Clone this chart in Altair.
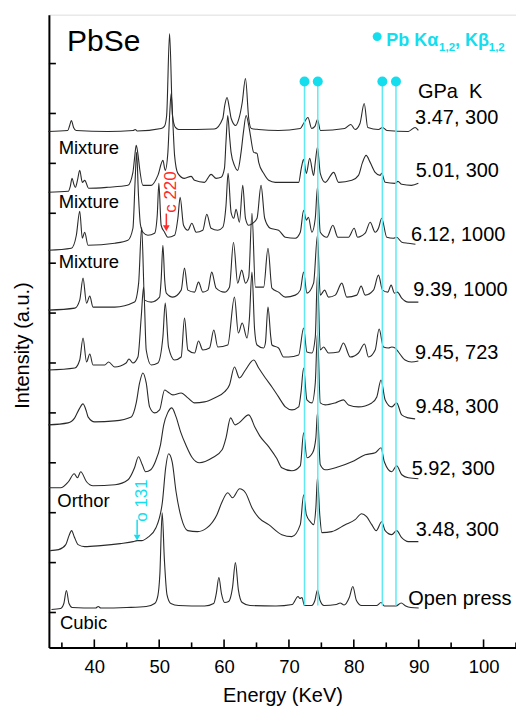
import altair as alt
import pandas as pd

# ---------------------------------------------------------------------------
# Energy-dispersive diffraction spectra of PbSe.
# Each spectrum: (energy in KeV, counts above that spectrum's own baseline)
# ---------------------------------------------------------------------------
s_347_300 = [(32.9, 0), (35.9, 1), (36.2, 6), (36.46, 11), (36.8, 4), (37.2, 1),
             (42.1, 0), (46.0, 1), (46.3, 2), (46.6, 0.5), (50.3, 3), (50.8, 5),
             (51.15, 16), (51.6, 98), (52.05, 16), (52.5, 4), (53.0, 2), (58.5, 2.5),
             (59.8, 13), (60.1, 26), (60.46, 34), (60.8, 24), (61.1, 13), (61.8, 6),
             (62.3, 13), (62.8, 29), (63.3, 53), (63.8, 13), (64.2, 3), (65.3, 2),
             (68.4, 1), (71.75, 3), (72.26, 8), (72.93, 14), (73.5, 3), (74.0, 5),
             (74.4, 12), (74.85, 1), (78.6, 3), (79.54, 7), (80.2, 2), (80.95, 8),
             (81.6, 28), (82.15, 4), (83.8, 2), (84.42, 4), (85.1, 1), (88.4, 0),
             (89.45, 4), (89.95, 1)]

s_501_300 = [(32.9, -1), (36.0, 0), (36.3, 5), (36.57, 13), (36.85, 7), (37.08, 4),
             (37.4, 11), (37.75, 21), (38.15, 9), (38.52, 11), (39.14, 3), (42.1, 4),
             (45.18, 6), (45.95, 19), (46.2, 33), (46.46, 46), (46.75, 36), (46.98, 23),
             (47.49, 6), (48.77, 6), (49.8, 16), (50.57, 31), (50.93, 21), (51.34, 39),
             (51.6, 75), (51.85, 98), (52.1, 70), (52.37, 36), (52.88, 18), (53.9, 13),
             (54.93, 15), (55.45, 11), (56.98, 9), (58.0, 17), (58.77, 13), (59.54, 14),
             (60.06, 23), (60.3, 50), (60.57, 76), (60.85, 55), (61.08, 39), (61.6, 26),
             (62.1, 21), (62.62, 39), (63.0, 60), (63.4, 76), (63.8, 66), (64.06, 56),
             (64.57, 39), (65.08, 38), (65.34, 29), (66.1, 18), (66.88, 11), (67.9, 9),
             (71.5, 9), (71.9, 23), (72.26, 32), (72.68, 18), (73.2, 33), (73.8, 16),
             (74.06, 29), (74.4, 44), (74.83, 18), (75.6, 9), (76.9, 19), (77.65, 9),
             (79.7, 11), (80.72, 16), (81.34, 29), (81.9, 36), (82.52, 29), (83.29, 19),
             (84.06, 16), (84.3, 18), (84.83, 9), (86.37, 8), (86.8, 10), (87.38, 7),
             (88.9, 6), (89.95, 8)]

s_612_1000 = [(32.9, -1), (36.46, 1), (37.23, 14), (37.75, 38), (38.15, 11), (38.52, 17),
              (39.03, 4), (43.14, 6), (45.18, 9), (45.95, 21), (46.3, 70), (46.52, 97),
              (46.8, 55), (47.1, 25), (47.49, 17), (48.26, 14), (49.29, 16), (49.7, 34),
              (49.95, 66), (50.3, 24), (50.83, 17), (51.34, 12), (52.37, 14), (52.88, 31),
              (53.23, 52), (53.75, 24), (54.42, 19), (55.03, 26), (55.7, 17), (56.72, 19),
              (57.34, 35), (58.0, 21), (59.03, 19), (59.8, 22), (60.3, 44), (60.62, 76),
              (61.08, 37), (61.5, 31), (61.85, 40), (62.37, 27), (62.88, 64), (63.3, 31),
              (63.8, 24), (64.42, 26), (65.08, 31), (65.7, 64), (66.26, 31), (67.13, 21),
              (68.4, 19), (69.45, 12), (70.98, 11), (71.75, 17), (72.26, 39), (72.68, 29),
              (73.0, 32), (73.54, 17), (74.06, 31), (74.4, 62), (74.83, 17), (75.85, 12),
              (76.77, 24), (77.54, 12), (79.18, 12), (80.06, 21), (80.57, 12), (81.75, 16),
              (82.52, 27), (83.29, 17), (83.8, 21), (84.3, 31), (85.08, 12), (86.1, 11),
              (86.6, 12), (87.4, 7), (88.4, 6), (89.5, 5)]

s_939_1000 = [(32.9, 0), (37.0, 2), (37.75, 10), (38.26, 32), (38.8, 7), (39.3, 14),
              (39.8, 3), (43.14, 3), (46.2, 8), (46.83, 27), (47.3, 83), (47.75, 10),
              (48.77, 8), (50.06, 13), (50.3, 30), (50.57, 65), (50.85, 30), (51.1, 17),
              (52.1, 13), (53.39, 20), (53.9, 42), (54.42, 20), (55.45, 18), (56.06, 28),
              (56.72, 18), (57.5, 20), (58.1, 38), (58.77, 22), (60.06, 18), (60.83, 23),
              (61.45, 68), (62.1, 27), (62.72, 40), (63.3, 27), (63.8, 33), (64.3, 97),
              (64.83, 23), (66.1, 23), (66.77, 62), (67.38, 22), (68.4, 18), (69.45, 13),
              (70.98, 15), (71.75, 20), (72.26, 38), (72.77, 17), (73.8, 27), (74.4, 75),
              (74.83, 15), (75.5, 20), (76.1, 13), (77.14, 15), (78.15, 27), (78.92, 13),
              (80.46, 15), (81.13, 24), (81.75, 15), (83.03, 20), (83.8, 35), (84.42, 20),
              (85.23, 18), (85.75, 25), (86.26, 17), (86.72, 18), (87.38, 12), (88.4, 8),
              (89.95, 8)]

s_945_723 = [(32.9, -1), (37.0, 1), (37.75, 9), (38.26, 31), (38.8, 7), (39.3, 15),
             (39.8, 4), (41.6, 4), (42.2, 7), (43.14, 2), (44.9, 6), (45.34, 10),
             (45.95, 6), (46.72, 12), (47.23, 52), (47.6, 82), (48.0, 19), (48.77, 4),
             (49.8, 6), (50.57, 32), (50.93, 66), (51.44, 22), (52.37, 9), (53.39, 12),
             (53.9, 51), (54.42, 19), (55.45, 16), (56.06, 28), (56.72, 19), (57.75, 21),
             (58.42, 39), (59.03, 22), (60.57, 24), (61.6, 72), (62.2, 36), (62.8, 46),
             (63.54, 31), (63.9, 50), (64.3, 97), (64.7, 40), (65.08, 24), (66.1, 21),
             (66.37, 26), (66.77, 62), (67.2, 32), (67.38, 24), (68.4, 21), (69.18, 12),
             (69.95, 12), (71.5, 14), (72.26, 41), (72.77, 17), (73.54, 16), (74.06, 32),
             (74.4, 95), (74.83, 19), (75.34, 22), (76.1, 16), (77.65, 17), (78.4, 26),
             (79.45, 12), (80.72, 16), (81.65, 25), (82.26, 12), (83.29, 19), (83.9, 40),
             (84.57, 22), (85.34, 21), (85.85, 22), (86.37, 21), (86.88, 17), (87.9, 9),
             (88.9, 7), (89.95, 8)]

s_948_300 = [(32.9, 0), (35.95, 2), (36.98, 7), (37.6, 15), (38.26, 21), (38.8, 13),
             (39.03, 8), (40.06, 3), (43.14, 4), (45.7, 8), (46.46, 22), (46.98, 42),
             (47.49, 52), (48.0, 42), (48.52, 18), (49.29, 12), (50.06, 15), (50.83, 35),
             (51.34, 33), (52.1, 30), (53.39, 32), (54.42, 27), (55.45, 22), (56.98, 23),
             (58.52, 27), (60.06, 33), (60.83, 40), (61.6, 58), (62.37, 47), (63.3, 55),
             (64.57, 65), (65.34, 57), (66.37, 47), (67.38, 38), (68.4, 28), (69.45, 18),
             (70.46, 15), (71.5, 18), (71.85, 32), (72.26, 57), (72.77, 25), (73.54, 22),
             (74.06, 42), (74.4, 92), (74.83, 22), (75.6, 20), (77.14, 22), (78.4, 25),
             (79.18, 20), (80.72, 18), (82.77, 22), (83.54, 28), (84.2, 45), (84.83, 25),
             (85.85, 18), (86.6, 22), (87.38, 10), (88.4, 7), (89.45, 6)]

s_592_300 = [(33.0, 0), (34.8, 0), (36.0, 6), (36.9, 14), (37.4, 10), (37.9, 16),
             (38.8, 6), (39.8, 2), (43.2, 3), (45.2, 8), (46.2, 20), (46.8, 31),
             (47.4, 23), (47.9, 16), (48.7, 18), (49.4, 26), (50.2, 43), (50.7, 63),
             (51.3, 75), (51.95, 80), (52.6, 71), (53.3, 56), (54.1, 43), (55.1, 30),
             (56.2, 25), (58.2, 30), (59.7, 38), (60.3, 50), (61.0, 70), (61.7, 63),
             (62.3, 65), (63.8, 73), (64.8, 60), (65.5, 52), (66.9, 41), (68.15, 29),
             (68.9, 20), (70.45, 17), (71.75, 22), (72.26, 55), (72.77, 30), (73.65, 35),
             (74.15, 50), (74.4, 75), (74.83, 23), (75.6, 18), (77.65, 21), (79.7, 26),
             (81.75, 33), (83.3, 35), (84.2, 40), (84.7, 26), (85.85, 16), (86.6, 22),
             (87.4, 13), (88.4, 10), (89.95, 9)]

s_348_300 = [(33.2, -1), (34.5, 0), (35.6, 5), (36.1, 14), (36.5, 19), (36.9, 13),
             (37.5, 5), (38.5, 3), (41.0, 4), (44.0, 6), (46.0, 8), (46.6, 9),
             (47.3, 9), (48.2, 12), (49.5, 22), (50.5, 48), (51.0, 82), (51.45, 96),
             (52.0, 88), (52.6, 58), (53.4, 32), (54.4, 19), (55.9, 18), (57.4, 22),
             (58.9, 35), (59.7, 48), (60.57, 57), (61.3, 52), (62.4, 61), (63.3, 57),
             (64.3, 42), (65.34, 32), (66.88, 25), (68.9, 15), (70.45, 13), (71.75, 25),
             (72.26, 55), (72.68, 35), (73.3, 28), (73.8, 25), (74.15, 42), (74.4, 72),
             (74.75, 35), (75.08, 17), (76.6, 18), (78.67, 25), (80.2, 30), (81.2, 36),
             (81.97, 33), (82.77, 25), (83.45, 19), (84.3, 28), (84.83, 19), (85.85, 15),
             (86.6, 19), (87.38, 12), (88.4, 8), (89.95, 8)]

s_open = [(33.4, -1), (34.8, 0), (35.3, 5), (35.7, 18), (36.1, 5), (36.6, 1),
          (40.2, 0.5), (40.6, 2), (41.0, 0.5), (45.0, 1), (48.0, 2), (49.3, 5),
          (49.8, 13), (50.1, 34), (50.46, 96), (50.8, 49), (51.2, 14), (51.8, 5),
          (53.0, 3), (57.0, 2.5), (58.4, 5), (58.8, 15), (59.2, 31), (59.6, 15),
          (60.1, 6), (60.7, 7), (61.3, 21), (61.75, 46), (62.2, 19), (62.8, 6),
          (64.0, 3), (68.0, 2.5), (70.5, 4), (71.4, 12), (71.7, 10), (72.0, 11),
          (72.4, 3), (73.5, 3), (74.0, 8), (74.4, 18.5), (74.8, 8), (75.4, 3),
          (77.3, 4), (77.9, 5.5), (78.5, 3.5), (79.3, 11), (79.85, 22), (80.4, 8),
          (81.2, 3), (83.5, 3), (84.2, 6), (84.7, 2.5), (86.5, 2.5), (87.3, 5.5),
          (88.0, 2.5), (88.8, 1), (90.0, 0.5)]

# pressure / temperature of every spectrum, top to bottom
conditions = ["3.47, 300", "5.01, 300", "6.12, 1000", "9.39, 1000", "9.45, 723",
              "9.48, 300", "5.92, 300", "3.48, 300", "Open press"]
spectra = [s_347_300, s_501_300, s_612_1000, s_939_1000, s_945_723,
           s_948_300, s_592_300, s_348_300, s_open]
# vertical stacking offset of each spectrum (a.u.)
baselines = [517, 457, 399, 338, 279, 223, 160, 98, 39]

# Pb K-alpha(1,2) and K-beta(1,2) fluorescence lines (KeV)
pb_lines = [72.4, 74.45, 84.4, 86.5]

# phase names written beside the spectra
phase_names = ["Mixture", "Mixture", "Mixture", "Orthor", "Cubic"]

# ---------------------------------------------------------------------------
FONT = "Liberation Sans"
CYAN = "#14DDEE"
RED = "#FF2A2A"
INK = "#2a2a2a"

W, H = 468, 634
x_scale = alt.Scale(domain=[33, 105], nice=False, zero=False)
y_scale = alt.Scale(domain=[0, 634], nice=False, zero=False)

rows = []
for k, (name, base, pts) in enumerate(zip(conditions, baselines, spectra)):
    for e, h in pts:
        rows.append({"trace": name, "k": k, "E": e, "I": base + h})
df = pd.DataFrame(rows)

x_axis = alt.Axis(values=list(range(40, 101, 10)), ticks=False, grid=False,
                  domain=True, domainColor="black", domainWidth=2,
                  labelFontSize=18.5, labelColor="black", labelPadding=10,
                  labelFont=FONT, title="Energy (KeV)", titleFont=FONT,
                  titleFontSize=20, titleFontWeight="normal", titleColor="black",
                  titleY=54, titleBaseline="alphabetic")
y_axis = alt.Axis(labels=False, ticks=False, grid=False,
                  domain=True, domainColor="black", domainWidth=2,
                  title="Intensity (a.u.)", titleFont=FONT, titleFontSize=20,
                  titleFontWeight="normal", titleColor="black", titleAngle=270,
                  titleX=-20, titleY=331, titleAlign="center",
                  titleBaseline="alphabetic")


def xq():
    return alt.X("E:Q", scale=x_scale, axis=x_axis)


def yq(field="I"):
    return alt.Y(f"{field}:Q", scale=y_scale, axis=y_axis)


lines = alt.Chart(df).mark_line(color=INK, strokeWidth=1.1, interpolate="monotone").encode(
    x=xq(), y=yq(), detail="trace:N", order=alt.Order("E:Q"))

# fluorescence markers
pb_df = pd.DataFrame({"E": pb_lines, "I": [567] * 4, "I2": [42] * 4})
pb_rules = alt.Chart(pb_df).mark_rule(color="#5FE9F3", strokeWidth=1.5).encode(
    x=xq(), y=yq(), y2="I2:Q")
pb_dots = alt.Chart(pb_df).mark_point(shape="circle", filled=True, size=100,
                                      color=CYAN, opacity=1).encode(x=xq(), y=yq())

# inward ticks on the bottom and left frame
major_df = pd.DataFrame({"E": list(range(40, 101, 10))})
minor_df = pd.DataFrame({"E": list(range(35, 106, 10))})
ytick_df = pd.DataFrame({"I": list(range(35, 586, 50))})
x_major = alt.Chart(major_df).mark_rule(color="black", strokeWidth=1.6).encode(
    x=xq(), y=alt.value(H), y2=alt.value(H - 8))
x_minor = alt.Chart(minor_df).mark_rule(color="black", strokeWidth=1.6).encode(
    x=xq(), y=alt.value(H), y2=alt.value(H - 5))
y_ticks = alt.Chart(ytick_df).mark_rule(color="black", strokeWidth=1.6).encode(
    y=yq(), x=alt.value(0), x2=alt.value(7))

# condition labels on the right
cond_df = pd.DataFrame({
    "label": conditions,
    "E": [89.45, 89.54, 88.83, 89.18, 89.45, 89.49, 88.92, 89.54, 88.4],
    "I": [524, 471, 407, 352, 289, 235, 173, 112, 43],
})
cond_text = alt.Chart(cond_df).mark_text(align="left", baseline="alphabetic",
                                         fontSize=20, font=FONT, color="black").encode(
    x=xq(), y=yq(), text="label:N")

head_df = pd.DataFrame({"label": ["GPa", "K"], "E": [89.9, 97.75], "I": [551, 551]})
head_text = alt.Chart(head_df).mark_text(align="left", baseline="alphabetic",
                                         fontSize=20, font=FONT, color="black").encode(
    x=xq(), y=yq(), text="label:N")

phase_df = pd.DataFrame({
    "label": phase_names,
    "E": [34.5, 34.5, 34.5, 34.3, 34.7],
    "I": [494.7, 440.7, 379.7, 140.3, 18.7],
})
phase_text = alt.Chart(phase_df).mark_text(align="left", baseline="alphabetic",
                                           fontSize=18.5, font=FONT, color="black").encode(
    x=xq(), y=yq(), text="label:N")

title_df = pd.DataFrame({"label": ["PbSe"], "E": [35.8], "I": [598]})
title_text = alt.Chart(title_df).mark_text(align="left", baseline="alphabetic",
                                           fontSize=30, font=FONT, color="black").encode(
    x=xq(), y=yq(), text="label:N")

# legend for the Pb fluorescence lines
leg_dot = alt.Chart(pd.DataFrame({"E": [83.6], "I": [612]})).mark_point(
    shape="circle", filled=True, size=80, color=CYAN, opacity=1).encode(x=xq(), y=yq())
leg_main = alt.Chart(pd.DataFrame({"label": ["Pb K\u03b1", ", K\u03b2"],
                                   "E": [85.0, 95.6], "I": [603, 603]})).mark_text(
    align="left", baseline="alphabetic", fontSize=18, fontWeight="bold",
    font=FONT, color=CYAN).encode(x=xq(), y=yq(), text="label:N")
leg_sub = alt.Chart(pd.DataFrame({"label": ["1,2", "1,2"],
                                  "E": [93.15, 100.8], "I": [598, 598]})).mark_text(
    align="left", baseline="alphabetic", fontSize=11.5, fontWeight="bold",
    font=FONT, color=CYAN).encode(x=xq(), y=yq(), text="label:N")

# reflection markers with arrows
refl_df = pd.DataFrame({"label": ["c 220", "o 131"], "E": [51.85, 47.37],
                        "I": [456.3, 147.2], "c": [RED, CYAN]})
refl_text = alt.Chart(refl_df).mark_text(angle=270, align="center", baseline="middle",
                                         fontSize=17, font=FONT).encode(
    x=xq(), y=yq(), text="label:N", color=alt.Color("c:N", scale=None))
arrow_df = pd.DataFrame({"E": [51.1, 46.6], "I": [434.7, 128], "I2": [421, 113],
                         "tip": [420, 110], "c": [RED, CYAN]})
arrow_shaft = alt.Chart(arrow_df).mark_rule(strokeWidth=1.5).encode(
    x=xq(), y=yq(), y2="I2:Q", color=alt.Color("c:N", scale=None))
arrow_head = alt.Chart(arrow_df).mark_point(shape="triangle-down", filled=True,
                                            size=45, opacity=1).encode(
    x=xq(), y=yq("tip"), color=alt.Color("c:N", scale=None))

chart = alt.layer(
    lines, pb_rules, pb_dots, x_major, x_minor, y_ticks, cond_text, head_text,
    phase_text, title_text, leg_dot, leg_main, leg_sub, refl_text, arrow_shaft,
    arrow_head,
).properties(
    width=W, height=H,
    padding={"left": 49, "top": 14, "right": 0, "bottom": 63},
    autosize=alt.AutoSizeParams(type="none"),
).configure_view(
    stroke="black", strokeWidth=2,
).configure(font=FONT)

chart.save("out.html", embed_options={"renderer": "svg", "actions": False})
